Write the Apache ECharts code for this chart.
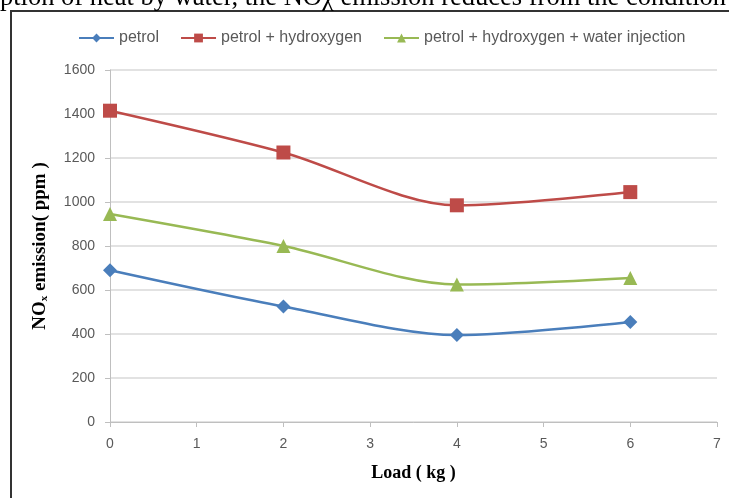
<!DOCTYPE html>
<html>
<head>
<meta charset="utf-8">
<script src="https://cdn.jsdelivr.net/npm/echarts@6/dist/echarts.min.js"></script>
<style>
  html, body { margin: 0; padding: 0; background: #fff; }
  #chart { width: 729px; height: 498px; }
</style>
</head>
<body>
<div id="chart"></div>
<script>
const loads = [0, 2, 4, 6];
const petrol = [690, 525, 395, 455];
const petrolHydroxygen = [1415, 1225, 985, 1045];
const petrolHydroxygenWater = [945, 800, 625, 655];

const pair = (vals) => loads.map((x, i) => [x, vals[i]]);

const chart = echarts.init(document.getElementById('chart'));
const axisText = { color: '#595959', fontSize: 14, fontFamily: 'Liberation Sans' };

const option = {
  animation: false,
  graphic: [
    {
      type: 'rect',
      shape: { x: 11, y: 11, width: 740, height: 500 },
      style: { fill: 'none', stroke: '#333', lineWidth: 2 }
    },
    {
      type: 'text',
      left: 0,
      top: -15,
      style: {
        text: 'ption of heat by water, the NOχ emission reduces from the condition',
        font: '26.5px "Liberation Serif"',
        fill: '#000'
      }
    }
  ],
  legend: {
    top: 25,
    left: 73,
    itemWidth: 35,
    itemHeight: 11,
    itemGap: 21,
    textStyle: { color: '#595959', fontSize: 16, fontFamily: 'Liberation Sans' },
    data: ['petrol', 'petrol + hydroxygen', 'petrol + hydroxygen + water injection']
  },
  grid: { left: 110, right: 12, top: 70, bottom: 76 },
  xAxis: {
    type: 'value',
    min: 0, max: 7, interval: 1,
    name: 'Load ( kg )',
    nameLocation: 'middle',
    nameGap: 42,
    nameTextStyle: { color: '#000', fontSize: 18, fontWeight: 'bold', fontFamily: 'Liberation Serif' },
    axisLine: { lineStyle: { color: '#bfbfbf' } },
    axisTick: { show: true, lineStyle: { color: '#bfbfbf' }, length: 5 },
    axisLabel: Object.assign({ margin: 15 }, axisText),
    splitLine: { show: false }
  },
  yAxis: {
    type: 'value',
    min: 0, max: 1600, interval: 200,
    name: 'NO{sub|x} emission( ppm )',
    nameLocation: 'middle',
    nameGap: 60,
    nameRotate: 90,
    nameTextStyle: {
      color: '#000', fontSize: 19, fontWeight: 'bold', fontFamily: 'Liberation Serif',
      rich: { sub: { fontSize: 11, fontWeight: 'bold', fontFamily: 'Liberation Serif', verticalAlign: 'bottom', padding: [7, 0, 0, 0] } }
    },
    axisLine: { show: true, lineStyle: { color: '#bfbfbf' } },
    axisTick: { show: true, lineStyle: { color: '#bfbfbf' }, length: 5 },
    axisLabel: Object.assign({ margin: 15, formatter: (v) => String(v) }, axisText),
    splitLine: { lineStyle: { color: '#d9d9d9', width: 1.5 } }
  },
  series: [
    {
      name: 'petrol',
      type: 'line',
      smooth: 0.3,
      data: pair(petrol),
      symbol: 'diamond',
      symbolSize: 14,
      lineStyle: { color: '#4a7ebb', width: 2.5 },
      itemStyle: { color: '#4a7ebb' }
    },
    {
      name: 'petrol + hydroxygen',
      type: 'line',
      smooth: 0.3,
      data: pair(petrolHydroxygen),
      symbol: 'rect',
      symbolSize: 14,
      lineStyle: { color: '#be4b48', width: 2.5 },
      itemStyle: { color: '#be4b48' }
    },
    {
      name: 'petrol + hydroxygen + water injection',
      type: 'line',
      smooth: 0.3,
      data: pair(petrolHydroxygenWater),
      symbol: 'triangle',
      symbolSize: 14,
      lineStyle: { color: '#98b954', width: 2.5 },
      itemStyle: { color: '#98b954' }
    }
  ]
};

chart.setOption(option);
</script>
</body>
</html>
